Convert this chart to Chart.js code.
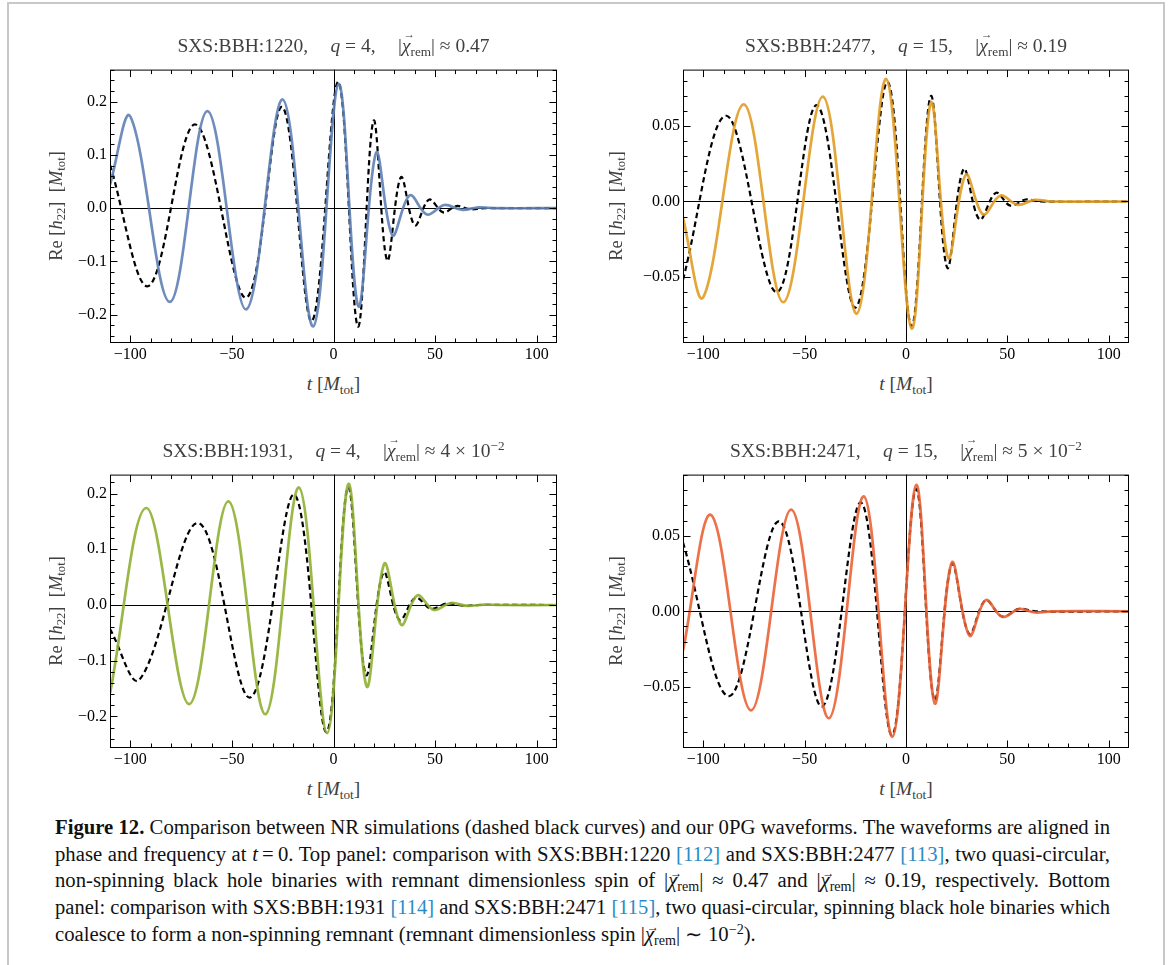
<!DOCTYPE html>
<html>
<head>
<meta charset="utf-8">
<title>Figure 12</title>
<script src="https://cdn.jsdelivr.net/npm/chart.js@4.4.1/dist/chart.umd.min.js"></script>
<style>
  body { margin: 0; background: #fff; }
  #page { position: relative; width: 1168px; height: 965px; overflow: hidden; font-family: 'Liberation Serif', 'Times New Roman', serif; }
  #page canvas { position: absolute; }
  .frame { position: absolute; background: #c8c8c8; }
  .title, .xlab, .ylab { position: absolute; white-space: nowrap; color: #404040; line-height: 1; }
  .title { font-size: 19.5px; transform: translate(-50%, -50%); }
  .xlab { font-size: 19.5px; transform: translate(-50%, -50%); }
  .ylab { font-size: 18.5px; transform: translate(-50%, -50%) rotate(-90deg); }
  .vec { position: relative; display: inline-block; font-style: italic; }
  .vec .arr { position: absolute; left: 0.14em; top: -0.58em; font-size: 0.6em; font-style: normal; }
  sub { font-size: 0.68em; vertical-align: -0.28em; line-height: 0; }
  sup { font-size: 0.68em; vertical-align: 0.55em; line-height: 0; }
  .gap { display: inline-block; width: 1.15em; }
  #caption { position: absolute; left: 55px; top: 814px; font-size: 20px; color: #111; }
  #caption .ln { display: table; white-space: nowrap; line-height: 26.7px; transform-origin: 0 0; }
  .ref { color: #2b8cc4; }
</style>
</head>
<body>
<div id="page">
  <div class="frame" style="left:7px; top:2px; width:1158px; height:2px;"></div>
  <div class="frame" style="left:7px; top:2px; width:2px; height:963px;"></div>
  <div class="frame" style="left:1163px; top:2px; width:2px; height:963px;"></div>

  <canvas id="c1220"></canvas>
  <canvas id="c2477"></canvas>
  <canvas id="c1931"></canvas>
  <canvas id="c2471"></canvas>

  <div class="title" id="t1220">SXS:BBH:1220,<span class="gap"></span><i>q</i> = 4,<span class="gap"></span>|<span class="vec">χ<span class="arr">→</span></span><sub>rem</sub>| ≈ 0.47</div>
  <div class="title" id="t2477">SXS:BBH:2477,<span class="gap"></span><i>q</i> = 15,<span class="gap"></span>|<span class="vec">χ<span class="arr">→</span></span><sub>rem</sub>| ≈ 0.19</div>
  <div class="title" id="t1931">SXS:BBH:1931,<span class="gap"></span><i>q</i> = 4,<span class="gap"></span>|<span class="vec">χ<span class="arr">→</span></span><sub>rem</sub>| ≈ 4 × 10<sup>−2</sup></div>
  <div class="title" id="t2471">SXS:BBH:2471,<span class="gap"></span><i>q</i> = 15,<span class="gap"></span>|<span class="vec">χ<span class="arr">→</span></span><sub>rem</sub>| ≈ 5 × 10<sup>−2</sup></div>

  <div id="caption">
    <div class="ln"><b>Figure 12.</b> Comparison between NR simulations (dashed black curves) and our 0PG waveforms. The waveforms are aligned in</div>
    <div class="ln">phase and frequency at <i>t</i>&thinsp;=&thinsp;0. Top panel: comparison with SXS:BBH:1220 <span class="ref">[112]</span> and SXS:BBH:2477 <span class="ref">[113]</span>, two quasi-circular,</div>
    <div class="ln">non-spinning black hole binaries with remnant dimensionless spin of |<span class="vec">χ<span class="arr">→</span></span><sub>rem</sub>| ≈ 0.47 and |<span class="vec">χ<span class="arr">→</span></span><sub>rem</sub>| ≈ 0.19, respectively. Bottom</div>
    <div class="ln">panel: comparison with SXS:BBH:1931 <span class="ref">[114]</span> and SXS:BBH:2471 <span class="ref">[115]</span>, two quasi-circular, spinning black hole binaries which</div>
    <div class="ln">coalesce to form a non-spinning remnant (remnant dimensionless spin |<span class="vec">χ<span class="arr">→</span></span><sub>rem</sub>| ∼ 10<sup>−2</sup>).</div>
  </div>
</div>

<script>
// Waveform turning points (peaks and troughs), t in M_tot, Re h22 in M_tot.
// PG = our 0PG model (coloured), NR = numerical relativity (dashed black).
var bbh1220PgT = [-110, -100, -80.5, -62, -43, -25, -10, 2.5, 12.2, 21, 29, 37.5, 46, 54.5, 63, 71.5, 80, 110];
var bbh1220PgH = [0.044, 0.172, -0.176, 0.182, -0.190, 0.204, -0.222, 0.233, -0.184, 0.104, -0.051, 0.024, -0.012, 0.006, -0.003, 0.0015, 0, 0];
var bbh1220NrT = [-110, -91, -68, -43, -25.3, -10.7, 2.3, 12, 19.7, 26.4, 33.2, 40, 47, 54, 60.5, 67, 75, 110];
var bbh1220NrH = [0.081, -0.146, 0.157, -0.168, 0.190, -0.212, 0.237, -0.222, 0.164, -0.098, 0.058, -0.032, 0.016, -0.008, 0.004, -0.002, 0, 0];

var bbh2477PgT = [-110, -100, -80, -60.5, -41, -24.3, -9.8, 2.8, 12.3, 20.8, 29.5, 38, 46.6, 55, 63.5, 72, 110];
var bbh2477PgH = [-0.0108, -0.0636, 0.0646, -0.067, 0.0697, -0.0746, 0.0815, -0.0845, 0.0657, -0.0376, 0.0178, -0.0086, 0.004, -0.0022, 0.0011, 0, 0];
var bbh2477NrT = [-110, -88.5, -63.7, -44, -24.9, -9.1, 2.7, 12.2, 20.3, 28.4, 36.3, 44.3, 51.5, 59, 66, 110];
var bbh2477NrH = [-0.052, 0.057, -0.0603, 0.064, -0.0706, 0.0795, -0.083, 0.070, -0.044, 0.0215, -0.012, 0.0057, -0.0028, 0.0013, 0, 0];

var bbh1931PgT = [-110, -92, -71, -51.7, -33.5, -17, -3.1, 7.3, 16.3, 25, 33.3, 41.2, 49.4, 57.7, 65.8, 74, 82, 110];
var bbh1931PgH = [-0.159, 0.174, -0.178, 0.186, -0.196, 0.211, -0.230, 0.217, -0.146, 0.074, -0.0356, 0.0172, -0.0089, 0.0036, -0.0017, 0.0008, 0, 0];
var bbh1931NrT = [-110, -95.5, -66.5, -41, -19.3, -3.5, 7.1, 15.9, 24.6, 32.5, 40.4, 48, 56, 64, 72, 110];
var bbh1931NrH = [-0.043, -0.134, 0.147, -0.166, 0.198, -0.228, 0.211, -0.125, 0.058, -0.027, 0.013, -0.0068, 0.003, -0.0015, 0, 0];

var bbh2471PgT = [-110, -96, -76.4, -56.6, -38, -20.8, -6.7, 5, 14.1, 22.6, 31.3, 39.3, 47.5, 55.8, 63.8, 72, 110];
var bbh2471PgH = [-0.0259, 0.0635, -0.0655, 0.0672, -0.0707, 0.076, -0.083, 0.0835, -0.0607, 0.0322, -0.0161, 0.0074, -0.0037, 0.0015, -0.0008, 0, 0];
var bbh2471NrT = [-110, -87, -62.6, -41.4, -22.2, -6.9, 4.9, 14, 22.6, 31.2, 39.2, 47.5, 55.8, 64, 110];
var bbh2471NrH = [0.0455, -0.056, 0.0595, -0.063, 0.072, -0.082, 0.0808, -0.0585, 0.0312, -0.015, 0.0072, -0.0035, 0.0016, 0, 0];

// Tick positions and labels
var tTicks = [-100, -50, 0, 50, 100];
var tTickLabels = ['−100', '−50', '0', '50', '100'];
var hTicksWide = [-0.2, -0.1, 0, 0.1, 0.2];
var hTickLabelsWide = ['−0.2', '−0.1', '0.0', '0.1', '0.2'];
var hTicksNarrow = [-0.05, 0, 0.05];
var hTickLabelsNarrow = ['−0.05', '0.00', '0.05'];

// Mathematica-style palette
var pgColors = {
    bbh1220: 'rgba(94, 129, 181, 0.9)',
    bbh2477: 'rgba(225, 156, 36, 0.9)',
    bbh1931: 'rgba(143, 176, 50, 0.9)',
    bbh2471: 'rgba(235, 98, 53, 0.9)'
};

var panels = [
    { id: '1220', box: [110, 67, 557, 343], hMin: -0.253, hMax: 0.26, hTicks: hTicksWide, hLabels: hTickLabelsWide, hStep: 0.02, ylabOff: 54.5,
      pgT: bbh1220PgT, pgH: bbh1220PgH, nrT: bbh1220NrT, nrH: bbh1220NrH, color: pgColors.bbh1220 },
    { id: '2477', box: [683, 67, 1129, 343], hMin: -0.0941, hMax: 0.0877, hTicks: hTicksNarrow, hLabels: hTickLabelsNarrow, hStep: 0.01, ylabOff: 67,
      pgT: bbh2477PgT, pgH: bbh2477PgH, nrT: bbh2477NrT, nrH: bbh2477NrH, color: pgColors.bbh2477 },
    { id: '1931', box: [110, 472, 557, 748], hMin: -0.2566, hMax: 0.234, hTicks: hTicksWide, hLabels: hTickLabelsWide, hStep: 0.02, ylabOff: 54.5,
      pgT: bbh1931PgT, pgH: bbh1931PgH, nrT: bbh1931NrT, nrH: bbh1931NrH, color: pgColors.bbh1931 },
    { id: '2471', box: [683, 472, 1129, 748], hMin: -0.0904, hMax: 0.0904, hTicks: hTicksNarrow, hLabels: hTickLabelsNarrow, hStep: 0.01, ylabOff: 67,
      pgT: bbh2471PgT, pgH: bbh2471PgH, nrT: bbh2471NrT, nrH: bbh2471NrH, color: pgColors.bbh2471 }
];

var PAD_L = 60, PAD_T = 10, PAD_R = 10, PAD_B = 30;

function zip(xs, ys) {
    return xs.map(function (x, i) { return { x: x, y: ys[i] }; });
}

// Frame with inward ticks on all four sides, plus the t = 0 and h = 0 axes
var frameTicks = {
    id: 'frameTicks',
    beforeDatasetsDraw: function (chart) {
        var ctx = chart.ctx, a = chart.chartArea, x = chart.scales.x, y = chart.scales.y;
        var x0 = Math.round(x.getPixelForValue(0)) + 0.5;
        var y0 = Math.round(y.getPixelForValue(0)) + 0.5;
        ctx.save();
        ctx.strokeStyle = '#000';
        ctx.lineWidth = 1;
        ctx.beginPath();
        ctx.moveTo(a.left, y0); ctx.lineTo(a.right, y0);
        ctx.moveTo(x0, a.top); ctx.lineTo(x0, a.bottom);
        ctx.stroke();
        ctx.restore();
    },
    afterDatasetsDraw: function (chart, args, opts) {
        var ctx = chart.ctx, a = chart.chartArea, x = chart.scales.x, y = chart.scales.y;
        var L = a.left + 0.5, R = a.right - 0.5, T = a.top + 0.5, B = a.bottom - 0.5;
        ctx.save();
        ctx.strokeStyle = '#000';
        ctx.lineWidth = 1;
        ctx.beginPath();
        for (var t = -100; t <= 100; t += 10) {
            var px = Math.round(x.getPixelForValue(t)) + 0.5;
            var len = tTicks.indexOf(t) >= 0 ? 7 : 4;
            ctx.moveTo(px, B); ctx.lineTo(px, B - len);
            ctx.moveTo(px, T); ctx.lineTo(px, T + len);
        }
        var k0 = Math.ceil(opts.hMin / opts.hStep - 1e-9), k1 = Math.floor(opts.hMax / opts.hStep + 1e-9);
        for (var k = k0; k <= k1; k++) {
            var v = k * opts.hStep;
            var major = opts.hTicks.some(function (m) { return Math.abs(m - v) < opts.hStep / 10; });
            var py = Math.round(y.getPixelForValue(v)) + 0.5;
            var ln = major ? 7 : 4;
            ctx.moveTo(L, py); ctx.lineTo(L + ln, py);
            ctx.moveTo(R, py); ctx.lineTo(R - ln, py);
        }
        ctx.stroke();
        ctx.strokeRect(L, T, R - L, B - T);
        ctx.restore();
    }
};

var tickFont = { family: 'Liberation Serif', size: 16 };

function makePanel(p) {
    var el = document.getElementById('c' + p.id);
    var b = p.box;
    var cw = b[2] - b[0] + PAD_L + PAD_R, ch = b[3] - b[1] + PAD_T + PAD_B;
    el.width = cw; el.height = ch;
    el.style.left = (b[0] - PAD_L) + 'px';
    el.style.top = (b[1] - PAD_T) + 'px';

    var chart = new Chart(el, {
        type: 'line',
        data: {
            datasets: [
                { data: zip(p.pgT, p.pgH), borderColor: p.color, borderWidth: 2.7, pointRadius: 0, tension: 0.36, fill: false, clip: 0 },
                { data: zip(p.nrT, p.nrH), borderColor: '#000', borderWidth: 2.2, borderDash: [5.5, 3.5], pointRadius: 0, tension: 0.36, fill: false, clip: 0 }
            ]
        },
        options: {
            responsive: false,
            animation: false,
            events: [],
            layout: { padding: { left: 0, top: PAD_T, right: PAD_R, bottom: 0 } },
            plugins: {
                legend: { display: false },
                tooltip: { enabled: false },
                frameTicks: { hMin: p.hMin, hMax: p.hMax, hStep: p.hStep, hTicks: p.hTicks }
            },
            scales: {
                x: {
                    type: 'linear', min: -110, max: 110,
                    grid: { display: false, drawTicks: false },
                    border: { display: false },
                    afterBuildTicks: function (s) { s.ticks = tTicks.map(function (v) { return { value: v }; }); },
                    afterFit: function (s) { s.height = PAD_B; },
                    ticks: { callback: function (v, i) { return tTickLabels[i]; }, font: tickFont, color: '#000', padding: 2, maxRotation: 0, autoSkip: false }
                },
                y: {
                    type: 'linear', min: p.hMin, max: p.hMax,
                    grid: { display: false, drawTicks: false },
                    border: { display: false },
                    afterBuildTicks: function (s) { s.ticks = p.hTicks.map(function (v) { return { value: v }; }); },
                    afterFit: function (s) { s.width = PAD_L; },
                    ticks: { callback: function (v, i) { return p.hLabels[i]; }, font: tickFont, color: '#000', padding: 3, autoSkip: false }
                }
            }
        },
        plugins: [frameTicks]
    });

    // place the HTML labels around the plot frame
    var ca = chart.chartArea;
    var ox = b[0] - PAD_L, oy = b[1] - PAD_T;
    var cx = ox + (ca.left + ca.right) / 2;
    var title = document.getElementById('t' + p.id);
    title.style.left = cx + 'px';
    title.style.top = (oy + ca.top - 24) + 'px';

    var xl = document.createElement('div');
    xl.className = 'xlab';
    xl.innerHTML = '<i>t</i> [<i>M</i><sub>tot</sub>]';
    xl.style.left = cx + 'px';
    xl.style.top = (oy + ca.bottom + 41) + 'px';
    document.getElementById('page').appendChild(xl);

    var yl = document.createElement('div');
    yl.className = 'ylab';
    yl.innerHTML = 'Re [<i>h</i><sub>22</sub>]&nbsp;&nbsp;[<i>M</i><sub>tot</sub>]';
    yl.style.left = (ox + ca.left - p.ylabOff) + 'px';
    yl.style.top = (oy + (ca.top + ca.bottom) / 2) + 'px';
    document.getElementById('page').appendChild(yl);
}

panels.forEach(makePanel);

// fit the caption lines to the column: a little horizontal stretch, the rest as word spacing
function fitCaption() {
    var lines = Array.prototype.slice.call(document.querySelectorAll('#caption .ln'));
    var target = 1055;
    lines.forEach(function (ln, i) {
        var w = ln.getBoundingClientRect().width;
        var s = Math.min(target / w, 1.035);
        ln.style.transform = 'scaleX(' + s + ')';
        if (i < 4) {
            var n = (ln.textContent.match(/ /g) || []).length;
            ln.style.wordSpacing = ((target / s - w) / n) + 'px';
        }
    });
}
document.fonts.ready.then(fitCaption);
</script>
</body>
</html>
